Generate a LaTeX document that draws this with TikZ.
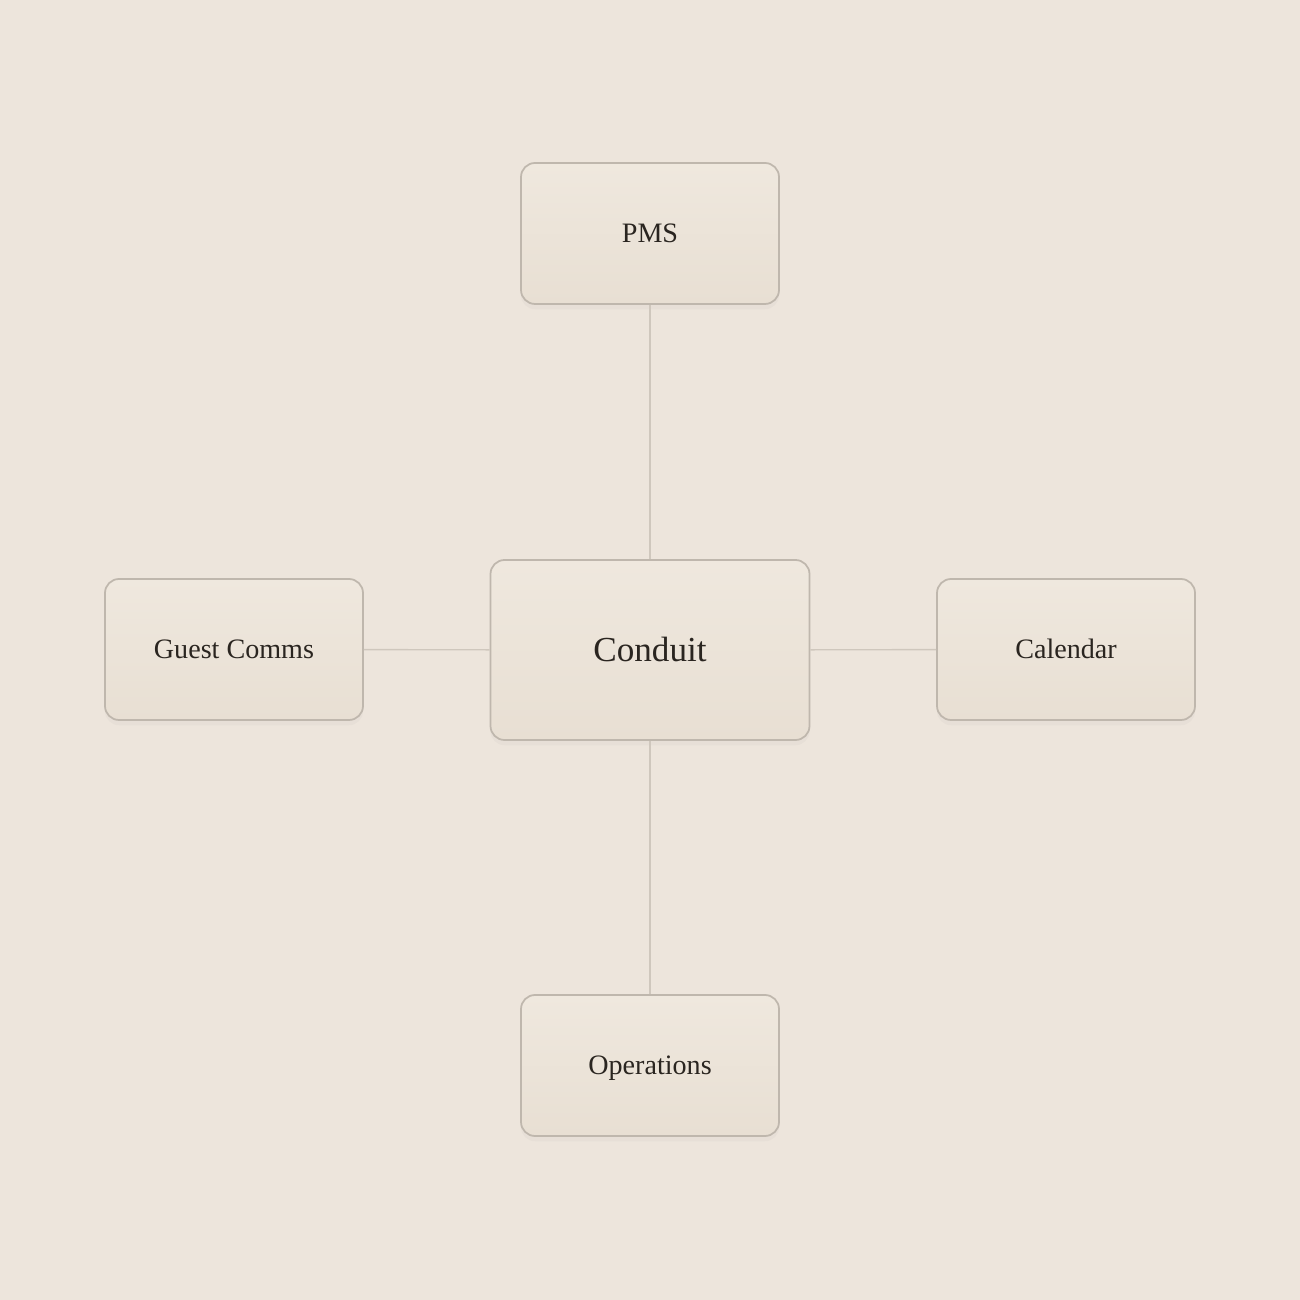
\documentclass[tikz,border=0pt]{standalone}
\usepackage{fontspec}
\setmainfont{Liberation Serif}
\usetikzlibrary{shadows}
\definecolor{paper}{HTML}{EDE5DC}
\definecolor{boxtop}{HTML}{EFE8DE}
\definecolor{boxbot}{HTML}{E8DFD3}
\definecolor{boxline}{HTML}{BFB7AD}
\definecolor{wire}{HTML}{CFC7BD}
\definecolor{ink}{HTML}{2A2520}

\begin{document}
\begin{tikzpicture} [scale=1,
  card/.style={draw=boxline, line width=0.5pt, rounded corners=4pt, top color=boxtop, bottom color=boxbot,
    text=ink, font=\fontsize{8}{9}\selectfont, text height=5.3pt, text depth=0pt,
    minimum width=2.58cm, minimum height=1.41cm,
    drop shadow={opacity=0.05, shadow xshift=0pt, shadow yshift=-1.5pt}},
  hubcard/.style={card, minimum width=3.19cm, minimum height=1.80cm, font=\fontsize{10}{11}\selectfont, text height=6.6pt},
  link/.style={draw=wire, line width=0.4pt}]
\fill[paper] (-6.5,-6.5) rectangle (6.5,6.5);
\useasboundingbox (-6.5,-6.5) rectangle (6.5,6.5);
\node [hubcard] (hub) at (0,0) {Conduit};
\node [card] (pms) at (0,4.165) {PMS};
\node [card] (guest) at (-4.16,0.005) {Guest Comms};
\node [card] (cal) at (4.16,0.005) {Calendar};
\node [card] (ops) at (0,-4.155) {Operations};
\draw [link] (pms) -- (hub);
\draw [link] (guest) -- (hub);
\draw [link] (cal) -- (hub);
\draw [link] (ops) -- (hub);
\end{tikzpicture}
\end{document}
